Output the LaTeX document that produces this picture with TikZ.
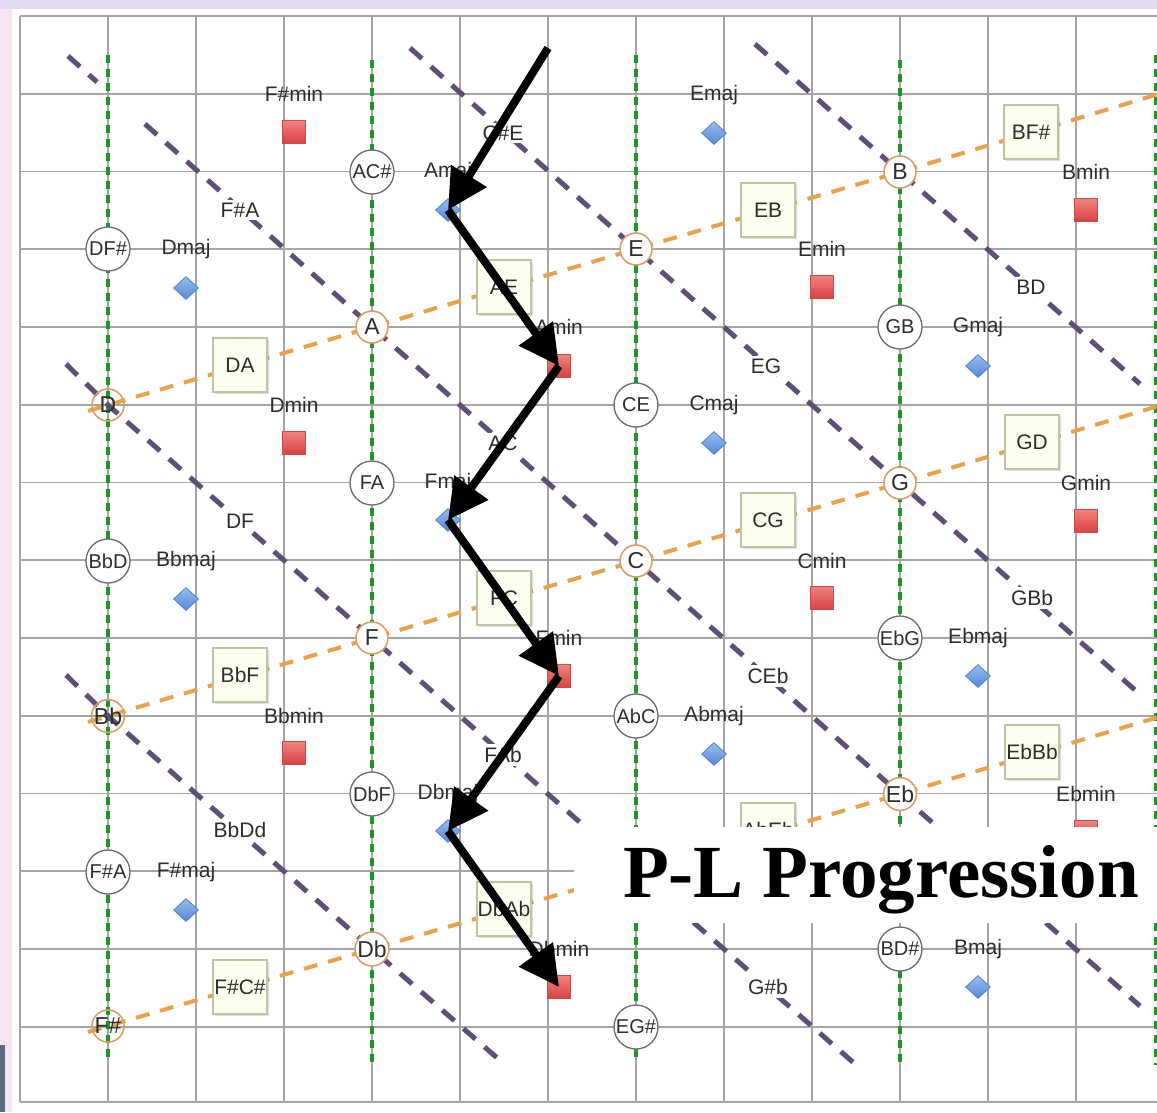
\documentclass[tikz,border=0pt]{standalone}
\usepackage{fontspec}
\setmainfont{Liberation Sans}
\newfontfamily\titlefont{Liberation Serif}
\usetikzlibrary{shapes.geometric,arrows.meta,shadows}
\definecolor{bgl}{RGB}{228,218,244}
\definecolor{pinkb}{RGB}{246,228,242}
\definecolor{bgray}{RGB}{95,105,125}
\definecolor{gridc}{RGB}{165,165,165}
\definecolor{greenc}{RGB}{30,150,40}
\definecolor{purpc}{RGB}{95,78,118}
\definecolor{orangec}{RGB}{232,162,75}
\definecolor{dyadc}{RGB}{105,105,118}
\definecolor{notec}{RGB}{215,160,105}
\definecolor{boxc}{RGB}{185,198,160}
\definecolor{boxfill}{RGB}{253,253,240}
\definecolor{sqdraw}{RGB}{200,75,75}
\definecolor{sqtop}{RGB}{242,130,125}
\definecolor{sqbot}{RGB}{215,65,65}
\definecolor{diadraw}{RGB}{85,130,200}
\definecolor{diatop}{RGB}{150,190,240}
\definecolor{diabot}{RGB}{85,135,215}
\definecolor{txtc}{RGB}{45,45,45}
\tikzset{
 gridln/.style={draw=gridc, line width=1.6pt},
 greenln/.style={draw=greenc, line width=4pt, dash pattern=on 8pt off 6pt},
 purpln/.style={draw=purpc, line width=5pt, dash pattern=on 16pt off 12pt},
 orangeln/.style={draw=orangec, line width=4pt, dash pattern=on 14pt off 11pt},
 dyad/.style={circle, draw=dyadc, line width=1.3pt, fill=white, minimum size=44pt, inner sep=0pt, font=\fontsize{20}{22}\selectfont, text=txtc},
 note/.style={circle, draw=notec, line width=1.6pt, fill=white, minimum size=32pt, inner sep=0pt, font=\fontsize{23}{25}\selectfont, text=txtc},
 notet/.style={note, fill=none},
 fbox/.style={rectangle, draw=boxc, line width=1.8pt, fill=boxfill, minimum size=54pt, inner sep=0pt, font=\fontsize{21}{23}\selectfont, text=txtc, drop shadow={opacity=0.25, shadow xshift=2pt, shadow yshift=-2pt}},
 minsq/.style={rectangle, draw=sqdraw, line width=0.8pt, top color=sqtop, bottom color=sqbot, minimum size=23pt, inner sep=0pt},
 majdia/.style={diamond, draw=diadraw, line width=0.8pt, top color=diatop, bottom color=diabot, minimum width=25pt, minimum height=23pt, inner sep=0pt},
 clbl/.style={font=\fontsize{21}{23}\selectfont, text=txtc, inner sep=1pt},
 llbl/.style={clbl, fill=white, inner sep=3pt},
 arr/.style={line width=8pt, -{Triangle[length=40pt,width=40pt]}},
}
\begin{document}
\begin{tikzpicture}[x=1pt,y=-1pt]
\useasboundingbox (0,0) rectangle (1157,1112);
% background
\fill[bgl] (0,0) rectangle (1157,1112);
\fill[pinkb] (0,9) rectangle (12,1112);
\fill[bgray] (0,1045) rectangle (5,1112);
\fill[white] (12,9) rectangle (1157,1112);
% grid
\foreach \i in {0,...,13} \draw[gridln] ({20+88*\i},16) -- ({20+88*\i},1102);
\foreach \j in {0,...,13} \draw[gridln] (20,{16+77.75*\j}) -- (1160,{16+77.75*\j});
\draw[gridln] (20,1102) -- (1160,1102);
% positions of the notes
\coordinate (pB) at (900,172);
\coordinate (pE) at (636,249);
\coordinate (pA) at (372,327);
\coordinate (pD) at (108,405);
\coordinate (pG) at (900,483);
\coordinate (pC) at (636,561);
\coordinate (pF) at (372,638);
\coordinate (pBb) at (108,716);
\coordinate (pEb) at (900,794);
\coordinate (pAb) at (636,872);
\coordinate (pDb) at (372,949);
\coordinate (pFs) at (108,1026);
% green major-third lines
\coordinate (g1a) at (108,55);  \coordinate (g1b) at (108,1058);
\coordinate (g2a) at (372,60);  \coordinate (g2b) at (372,1065);
\coordinate (g3a) at (636,55);  \coordinate (g3b) at (636,1058);
\coordinate (g4a) at (900,60);  \coordinate (g4b) at (900,1065);
\coordinate (g5a) at (1156,55); \coordinate (g5b) at (1156,1065);
\draw[greenln] (g1a) -- (g1b);
\draw[greenln] (g2a) -- (g2b);
\draw[greenln] (g3a) -- (g3b);
\draw[greenln] (g4a) -- (g4b);
\draw[greenln] (g5a) -- (g5b);
% purple minor-third lines
\coordinate (pa0) at (68,56); \coordinate (pa1) at (97,82);
\coordinate (pa2) at (145,124); \coordinate (pa3) at (1140,1006);
\coordinate (pb0) at (410,48); \coordinate (pb1) at (1135,690);
\coordinate (pc0) at (755,44); \coordinate (pc1) at (1140,384);
\coordinate (pd0) at (66,364); \coordinate (pd1) at (855,1064);
\coordinate (pe0) at (66,675); \coordinate (pe1) at (503,1063);
\draw[purpln] (pa0) -- (pa1);
\draw[purpln] (pa2) -- (pA) -- (pC) -- (pEb) -- (pa3);
\draw[purpln] (pb0) -- (pE) -- (pG) -- (pb1);
\draw[purpln] (pc0) -- (pB) -- (pc1);
\draw[purpln] (pd0) -- (pD) -- (pF) -- (pAb) -- (pd1);
\draw[purpln] (pe0) -- (pBb) -- (pDb) -- (pe1);
% orange fifth lines
\coordinate (o1a) at (88,411);  \coordinate (o1b) at (1162,93);
\coordinate (o2a) at (88,722);  \coordinate (o2b) at (1162,405);
\coordinate (o3a) at (88,1032); \coordinate (o3b) at (1162,716);
\draw[orangeln] (o1a) -- (pD) -- (pA) -- (pE) -- (pB) -- (o1b);
\draw[orangeln] (o2a) -- (pBb) -- (pF) -- (pC) -- (pG) -- (o2b);
\draw[orangeln] (o3a) -- (pFs) -- (pDb) -- (pAb) -- (pEb) -- (o3b);
% fifth boxes
\node[fbox] (bDA) at (240,365) {DA};
\node[fbox] (bAE) at (504,287) {AE};
\node[fbox] (bEB) at (768,210) {EB};
\node[fbox] (bBFs) at (1031,132) {BF\#};
\node[fbox] (bBbF) at (240,675) {BbF};
\node[fbox] (bFC) at (504,598) {FC};
\node[fbox] (bCG) at (768,520) {CG};
\node[fbox] (bGD) at (1032,442) {GD};
\node[fbox] (bFsCs) at (240,987) {F\#C\#};
\node[fbox] (bDbAb) at (504,909) {DbAb};
\node[fbox] (bAbEb) at (768,830) {AbEb};
\node[fbox] (bEbBb) at (1032,752) {EbBb};
% note circles
\node[note] (nB) at (pB) {B};
\node[note] (nE) at (pE) {E};
\node[note] (nA) at (pA) {A};
\node[notet] (nD) at (pD) {D};
\node[note] (nG) at (pG) {G};
\node[note] (nC) at (pC) {C};
\node[note] (nF) at (pF) {F};
\node[notet] (nBb) at (pBb) {Bb};
\node[note] (nEb) at (pEb) {Eb};
\node[note] (nDb) at (pDb) {Db};
\node[notet] (nFs) at (pFs) {F\#};
% dyad circles
\node[dyad] (dACs) at (372,172) {AC\#};
\node[dyad] (dDFs) at (108,249) {DF\#};
\node[dyad] (dGB) at (900,327) {GB};
\node[dyad] (dCE) at (636,405) {CE};
\node[dyad] (dFA) at (372,483) {FA};
\node[dyad] (dBbD) at (108,561) {BbD};
\node[dyad] (dEbG) at (900,638) {EbG};
\node[dyad] (dAbC) at (636,716) {AbC};
\node[dyad] (dDbF) at (372,794) {DbF};
\node[dyad] (dFsA) at (108,872) {F\#A};
\node[dyad] (dBDs) at (900,949) {BD\#};
\node[dyad] (dEGs) at (636,1027) {EG\#};
% line labels
\node[llbl] (lFsA) at (240,210) {F\#A};
\node[llbl] (lCsE) at (503,133) {C\#E};
\node[llbl] (lBD) at (1031,287) {BD};
\node[llbl] (lEG) at (766,366) {EG};
\node[llbl] (lAC) at (503,443) {AC};
\node[llbl] (lDF) at (240,521) {DF};
\node[llbl] (lGBb) at (1032,598) {GBb};
\node[llbl] (lCEb) at (768,676) {CEb};
\node[llbl] (lFAb) at (503,755) {FAb};
\node[llbl] (lBbDd) at (240,830) {BbDd};
\node[llbl] (lGsb) at (768,987) {G\#b};
% minor chords
\node[minsq] (Fsmin) at (294,132) {};  \node[clbl] (tFsmin) at (294,94) {F\#min};
\node[minsq] (Amin) at (559,366) {};   \node[clbl] (tAmin) at (559,327) {Amin};
\node[minsq] (Emin) at (822,287) {};   \node[clbl] (tEmin) at (822,249) {Emin};
\node[minsq] (Bmin) at (1086,210) {};  \node[clbl] (tBmin) at (1086,172) {Bmin};
\node[minsq] (Dmin) at (294,443) {};   \node[clbl] (tDmin) at (294,405) {Dmin};
\node[minsq] (Gmin) at (1086,521) {};  \node[clbl] (tGmin) at (1086,483) {Gmin};
\node[minsq] (Cmin) at (822,598) {};   \node[clbl] (tCmin) at (822,561) {Cmin};
\node[minsq] (Fmin) at (559,676) {};   \node[clbl] (tFmin) at (559,638) {Fmin};
\node[minsq] (Bbmin) at (294,753) {};  \node[clbl] (tBbmin) at (294,716) {Bbmin};
\node[minsq] (Ebmin) at (1086,832) {}; \node[clbl] (tEbmin) at (1086,794) {Ebmin};
\node[minsq] (Dbmin) at (559,987) {};  \node[clbl] (tDbmin) at (559,949) {Dbmin};
% major chords
\node[majdia] (Emaj) at (714,133) {};  \node[clbl] (tEmaj) at (714,95) {Emaj};
\node[majdia] (Amaj) at (448,210) {};  \node[clbl] (tAmaj) at (448,172) {Amaj};
\node[majdia] (Dmaj) at (186,288) {};  \node[clbl] (tDmaj) at (186,249) {Dmaj};
\node[majdia] (Gmaj) at (978,366) {};  \node[clbl] (tGmaj) at (978,327) {Gmaj};
\node[majdia] (Cmaj) at (714,443) {};  \node[clbl] (tCmaj) at (714,405) {Cmaj};
\node[majdia] (Fmaj) at (448,520) {};  \node[clbl] (tFmaj) at (448,483) {Fmaj};
\node[majdia] (Bbmaj) at (186,599) {}; \node[clbl] (tBbmaj) at (186,561) {Bbmaj};
\node[majdia] (Ebmaj) at (978,676) {}; \node[clbl] (tEbmaj) at (978,638) {Ebmaj};
\node[majdia] (Abmaj) at (714,754) {}; \node[clbl] (tAbmaj) at (714,716) {Abmaj};
\node[majdia] (Dbmaj) at (448,831) {}; \node[clbl] (tDbmaj) at (448,794) {Dbmaj};
\node[majdia] (Fsmaj) at (186,910) {}; \node[clbl] (tFsmaj) at (186,872) {F\#maj};
\node[majdia] (Bmaj) at (978,987) {};  \node[clbl] (tBmaj) at (978,949) {Bmaj};
% title
\node[rectangle, fill=white, minimum width=584pt, minimum height=96pt, inner sep=0pt] (ttlbox) at (866,875) {};
\node[font=\titlefont\bfseries\fontsize{75}{80}\selectfont, anchor=base, inner sep=0pt] (ttl) at (881,897) {P-L Progression};
% P-L progression arrows
\coordinate (start) at (548,48);
\draw[arr] (start) -- (Amaj.center);
\draw[arr] (Amaj.center) -- (Amin.center);
\draw[arr] (Amin.center) -- (Fmaj.center);
\draw[arr] (Fmaj.center) -- (Fmin.center);
\draw[arr] (Fmin.center) -- (Dbmaj.center);
\draw[arr] (Dbmaj.center) -- (Dbmin.center);
\end{tikzpicture}
\end{document}
